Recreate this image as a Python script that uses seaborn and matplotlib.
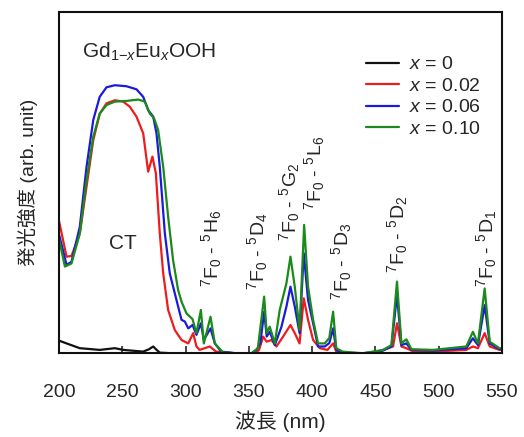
import pandas as pd
import matplotlib
matplotlib.use("Agg")
import matplotlib.pyplot as plt
import seaborn as sns

# Excitation spectra of Gd(1-x)Eu(x)OOH
# (wavelength nm, intensity arb. unit)
series_labels = ["x = 0", "x = 0.02", "x = 0.06", "x = 0.10"]
series_colors = ["#111111", "#ee1c1c", "#1a1adc", "#1b8a1b"]

x0_points = [(200, 0.037), (205.8, 0.029), (216.3, 0.015), (232, 0.01), (244, 0.015),
             (250.6, 0.01), (266.4, 0.005), (271, 0.012), (274.3, 0.02), (277, 0.01),
             (279.5, 0.002), (290, 0.0), (550, 0.0)]

x002_points = [(200, 0.385), (205.8, 0.283), (209.7, 0.285), (216.3, 0.351), (221.6, 0.488),
               (226.9, 0.624), (232.1, 0.702), (237.4, 0.732), (244, 0.741), (250.6, 0.737),
               (255.8, 0.722), (261.1, 0.693), (266.4, 0.644), (270.3, 0.532), (273.7, 0.576),
               (276.4, 0.527), (279.5, 0.351), (282.2, 0.234), (286.1, 0.127), (291.4, 0.068),
               (296.7, 0.039), (299.3, 0.034), (302, 0.029), (305.9, 0.059), (308.5, 0.02),
               (311, 0.01), (319, 0.02), (324, 0.005), (340, 0.0), (355, 0.0), (358, 0.01),
               (361.2, 0.049), (364, 0.034), (367.8, 0.039), (371.7, 0.02), (377, 0.049),
               (382.8, 0.083), (386.2, 0.059), (390, 0.029), (393.3, 0.161), (396.7, 0.098),
               (400.7, 0.039), (406, 0.015), (412, 0.01), (416.5, 0.029), (419, 0.005),
               (430, 0.0), (450, 0.0), (456, 0.01), (463.9, 0.02), (467, 0.088), (470.5, 0.02),
               (474.4, 0.015), (480, 0.005), (495.5, 0.005), (521.8, 0.01), (527, 0.02),
               (531, 0.015), (536.3, 0.059), (540.3, 0.02), (548, 0.01), (550, 0.01)]

x006_points = [(200, 0.346), (205.8, 0.259), (209.7, 0.268), (216.3, 0.371), (221.6, 0.546),
               (226.9, 0.683), (232, 0.751), (237.4, 0.779), (244, 0.785), (253.2, 0.782),
               (261.1, 0.773), (266.4, 0.751), (270.3, 0.712), (274.3, 0.693), (276.9, 0.644),
               (279.5, 0.546), (283.5, 0.351), (287.4, 0.234), (292.7, 0.156), (296.7, 0.098),
               (299.3, 0.093), (302, 0.073), (305.4, 0.083), (308.5, 0.054), (312, 0.088),
               (314.3, 0.039), (319.6, 0.073), (323, 0.029), (328, 0.005), (340, 0.0),
               (352, 0.0), (356, 0.01), (359, 0.03), (362, 0.122), (364, 0.049), (366.4, 0.063),
               (370.4, 0.024), (375.7, 0.078), (379.6, 0.137), (382.8, 0.195), (386.2, 0.137),
               (390, 0.059), (393.3, 0.293), (396.7, 0.156), (400.7, 0.088), (404.6, 0.02),
               (409.9, 0.02), (413.5, 0.03), (416.5, 0.073), (419, 0.01), (424, 0.002),
               (440, 0.0), (456, 0.008), (462.6, 0.02), (467, 0.171), (470.5, 0.024),
               (474.4, 0.029), (478.4, 0.01), (495.5, 0.008), (521.8, 0.015), (527, 0.044),
               (531, 0.024), (536.3, 0.141), (540.3, 0.029), (548, 0.012), (550, 0.012)]

x010_points = [(200, 0.332), (204.5, 0.254), (209.7, 0.263), (216.3, 0.351), (221.6, 0.507),
               (226.9, 0.634), (232, 0.702), (237.4, 0.727), (244, 0.737), (253.2, 0.739),
               (262.4, 0.743), (267.7, 0.737), (271.6, 0.702), (275, 0.688), (278.2, 0.654),
               (282.2, 0.546), (286.1, 0.4), (290, 0.273), (294, 0.185), (296.7, 0.151),
               (300.6, 0.117), (305.4, 0.1), (308.5, 0.059), (312, 0.127), (314.3, 0.029),
               (319.6, 0.107), (323, 0.029), (329.6, 0.002), (340, 0.0), (352, 0.0),
               (357, 0.015), (362, 0.166), (364, 0.059), (366.4, 0.078), (370.4, 0.029),
               (374.3, 0.127), (379.6, 0.205), (382.8, 0.283), (386.2, 0.195), (390, 0.068),
               (393.6, 0.376), (396.7, 0.195), (400.7, 0.098), (404.6, 0.029), (409.9, 0.029),
               (413.5, 0.045), (416.5, 0.122), (419, 0.015), (424, 0.005), (440, 0.0),
               (456, 0.01), (462.6, 0.024), (467, 0.21), (470.5, 0.029), (474.4, 0.041),
               (478.4, 0.012), (495.5, 0.01), (521.8, 0.02), (527, 0.063), (531, 0.029),
               (536.3, 0.19), (540.3, 0.034), (548, 0.015), (550, 0.015)]

# transition labels: (text, wavelength of centre, bottom of text)
transitions = [
    (r"$^7$F$_0$ - $^5$H$_6$", 320.6, 0.195),
    (r"$^7$F$_0$ - $^5$D$_4$", 357.0, 0.185),
    (r"$^7$F$_0$ - $^5$G$_2$", 382.0, 0.330),
    (r"$^7$F$_0$ - $^5$L$_6$", 402.0, 0.420),
    (r"$^7$F$_0$ - $^5$D$_3$", 423.0, 0.156),
    (r"$^7$F$_0$ - $^5$D$_2$", 467.6, 0.235),
    (r"$^7$F$_0$ - $^5$D$_1$", 537.8, 0.194),
]
x_ticks = [200, 250, 300, 350, 400, 450, 500, 550]

sns.set_style("ticks")
plt.rcParams["font.family"] = ["Liberation Sans", "Noto Sans CJK JP", "DejaVu Sans"]
plt.rcParams["mathtext.fontset"] = "custom"
plt.rcParams["mathtext.rm"] = "Liberation Sans"
plt.rcParams["mathtext.it"] = "Liberation Sans:italic"
plt.rcParams["mathtext.bf"] = "Liberation Sans:bold"

frames = []
for label, pts in zip(series_labels, [x0_points, x002_points, x006_points, x010_points]):
    part = pd.DataFrame(pts, columns=["wl", "intensity"])
    part["series"] = label
    frames.append(part)
df = pd.concat(frames, ignore_index=True)

fig = plt.figure(figsize=(5.24, 4.37), dpi=100)
ax = fig.add_axes([0.113, 0.1915, 0.845, 0.7815])

sns.lineplot(data=df, x="wl", y="intensity", hue="series", hue_order=series_labels,
             palette=dict(zip(series_labels, series_colors)), estimator=None,
             linewidth=1.6, ax=ax, legend=False)

ax.set_xlim(200, 550)
ax.set_ylim(0, 1)
ax.set_xticks(x_ticks)
ax.set_yticks([])
ax.tick_params(axis="x", direction="in", length=5, width=1.2, labelsize=14, pad=22)
for s in ax.spines.values():
    s.set_linewidth(1.5)
    s.set_color("#111111")

ax.set_xlabel("波長 (nm)", fontsize=15, labelpad=7)
ax.set_ylabel("発光強度 (arb. unit)", fontsize=14, labelpad=15)

# legend built from the drawn lines
handles = ax.get_lines()[:4]
leg_labels = [r"$\mathit{x}$ = " + lab.split("= ")[1] for lab in series_labels]
ax.legend(handles, leg_labels, loc="upper left", bbox_to_anchor=(0.675, 0.894),
          frameon=False, fontsize=14, handlelength=1.7, handletextpad=0.5,
          labelspacing=0.2, borderaxespad=0)

ax.text(218, 0.882, r"Gd$_{1\mathrm{-}\mathit{x}}$Eu$_{\mathit{x}}$OOH", fontsize=15,
        ha="left", va="center")
ax.text(250.5, 0.322, "CT", fontsize=15, ha="center", va="center")
for txt, wl, ybot in transitions:
    ax.text(wl, ybot, txt, rotation=90, fontsize=14, ha="center", va="bottom")

fig.savefig("out.png", dpi=100)
